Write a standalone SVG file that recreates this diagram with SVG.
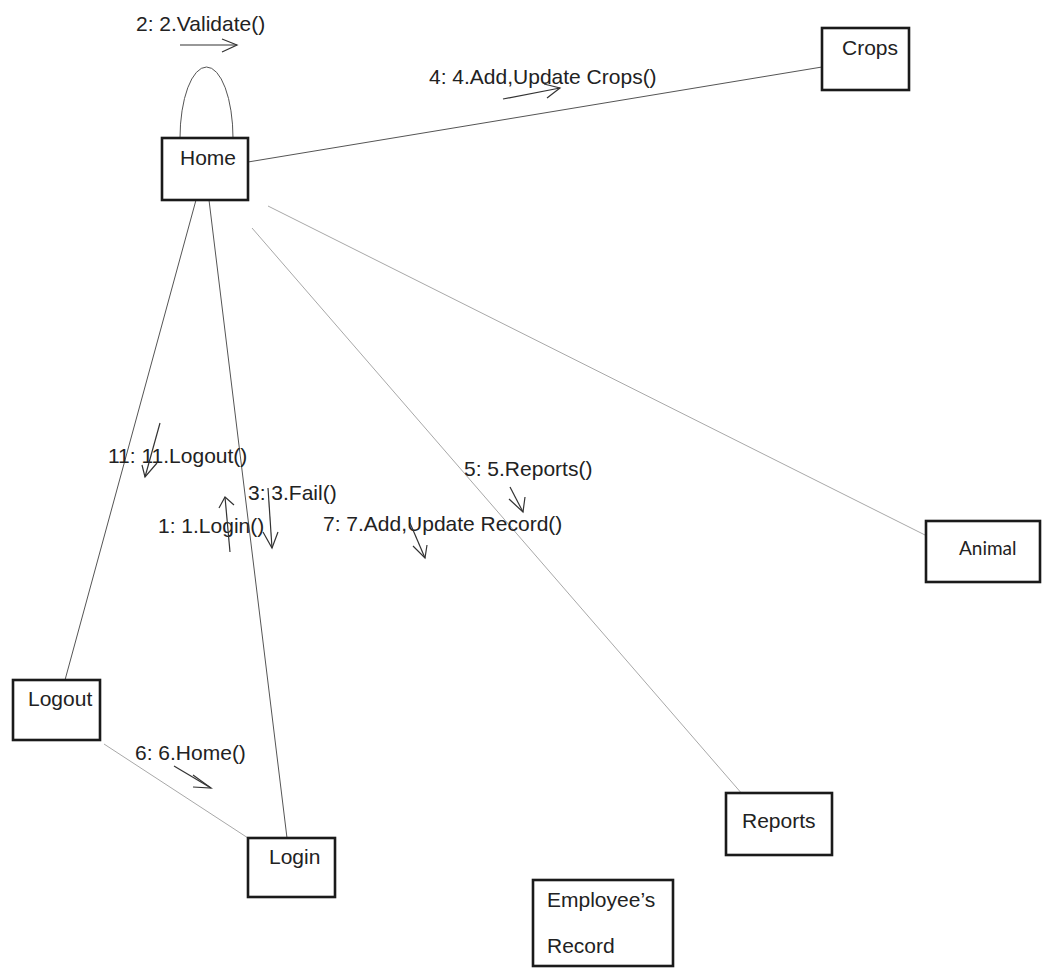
<svg xmlns="http://www.w3.org/2000/svg" width="1042" height="968" viewBox="0 0 1042 968">
  <style>
    .box { fill: #ffffff; stroke: #1a1a1a; stroke-width: 2.6; }
    .name { font-family: "Liberation Sans", Arial, sans-serif; font-size: 21px; fill: #222; }
    .calib { font-family: Lato, "Liberation Sans", sans-serif; font-size: 19px; fill: #222; }
    .msg { font-family: "Liberation Sans", Arial, sans-serif; font-size: 21px; fill: #222; }
    .link { fill: none; stroke: #555; stroke-width: 1; }
    .faint { fill: none; stroke: #a8a8a8; stroke-width: 1; }
    .arr { fill: none; stroke: #333; stroke-width: 1.2; stroke-linejoin: miter; }
  </style>
  <rect width="1042" height="968" fill="#ffffff"/>

  <!-- associations between objects -->
  <g id="connectors">
    <path class="link" d="M180,138 A26.5,71 0 0 1 233,138"/>
    <line class="link" x1="248" y1="162" x2="822" y2="67"/>
    <line class="link" x1="196" y1="200" x2="65" y2="680"/>
    <line class="link" x1="209" y1="200" x2="287" y2="838"/>
    <line class="faint" x1="252" y1="228" x2="743" y2="795"/>
    <line class="faint" x1="268" y1="206" x2="925" y2="535"/>
    <line class="faint" x1="104" y1="744" x2="248" y2="838"/>
  </g>

  <!-- message labels with direction arrows -->
  <g id="messages">
    <text class="msg" x="136" y="31" font-size="20">2: 2.Validate()</text>
    <line class="arr" x1="180" y1="45" x2="237" y2="45"/>
    <polyline class="arr" points="222,39 237,45 222,52"/>

    <text class="msg" x="429" y="84">4: 4.Add,Update Crops()</text>
    <line class="arr" x1="503" y1="99" x2="560" y2="88"/>
    <polyline class="arr" points="544,84 560,88 547,98"/>

    <text class="msg" x="108" y="463">11: 11.Logout()</text>
    <line class="arr" x1="160" y1="423" x2="145" y2="477"/>
    <polyline class="arr" points="142,465 145,477 157,463"/>

    <text class="msg" x="158" y="533">1: 1.Login()</text>
    <line class="arr" x1="230" y1="552" x2="225" y2="497"/>
    <polyline class="arr" points="219,508 225,497 234,505"/>

    <text class="msg" x="248" y="500">3: 3.Fail()</text>
    <line class="arr" x1="268" y1="488" x2="272" y2="548"/>
    <polyline class="arr" points="263,532 272,548 278,532"/>

    <text class="msg" x="464" y="476">5: 5.Reports()</text>
    <line class="arr" x1="510" y1="487" x2="523" y2="512"/>
    <polyline class="arr" points="509,499 523,512 525,497"/>

    <text class="msg" x="323" y="531">7: 7.Add,Update  Record()</text>
    <line class="arr" x1="410" y1="523" x2="425" y2="558"/>
    <polyline class="arr" points="413,546 425,558 427,545"/>

    <text class="msg" x="135" y="760">6: 6.Home()</text>
    <line class="arr" x1="174" y1="766" x2="211" y2="788"/>
    <polyline class="arr" points="193,775 211,788 193,787"/>
  </g>

  <!-- objects -->
  <g id="home">
    <rect class="box" x="162" y="138" width="86" height="62"/>
    <text class="name" x="180" y="165">Home</text>
  </g>
  <g id="crops">
    <rect class="box" x="822" y="28" width="87" height="62"/>
    <text class="name" x="842" y="55">Crops</text>
  </g>
  <g id="logout">
    <rect class="box" x="13" y="680" width="87" height="60"/>
    <text class="name" x="28" y="706">Logout</text>
  </g>
  <g id="login">
    <rect class="box" x="248" y="838" width="87" height="59"/>
    <text class="name" x="269" y="864">Login</text>
  </g>
  <g id="reports">
    <rect class="box" x="726" y="793" width="106" height="62"/>
    <text class="name" x="742" y="828">Reports</text>
  </g>
  <g id="animal">
    <rect class="box" x="926" y="521" width="114" height="61"/>
    <text class="calib" x="959" y="555">Animal</text>
  </g>
  <g id="employee-record">
    <rect class="box" x="533" y="880" width="140" height="86"/>
    <text class="name" x="547" y="907">Employee’s</text>
    <text class="name" x="547" y="953">Record</text>
  </g>
</svg>
